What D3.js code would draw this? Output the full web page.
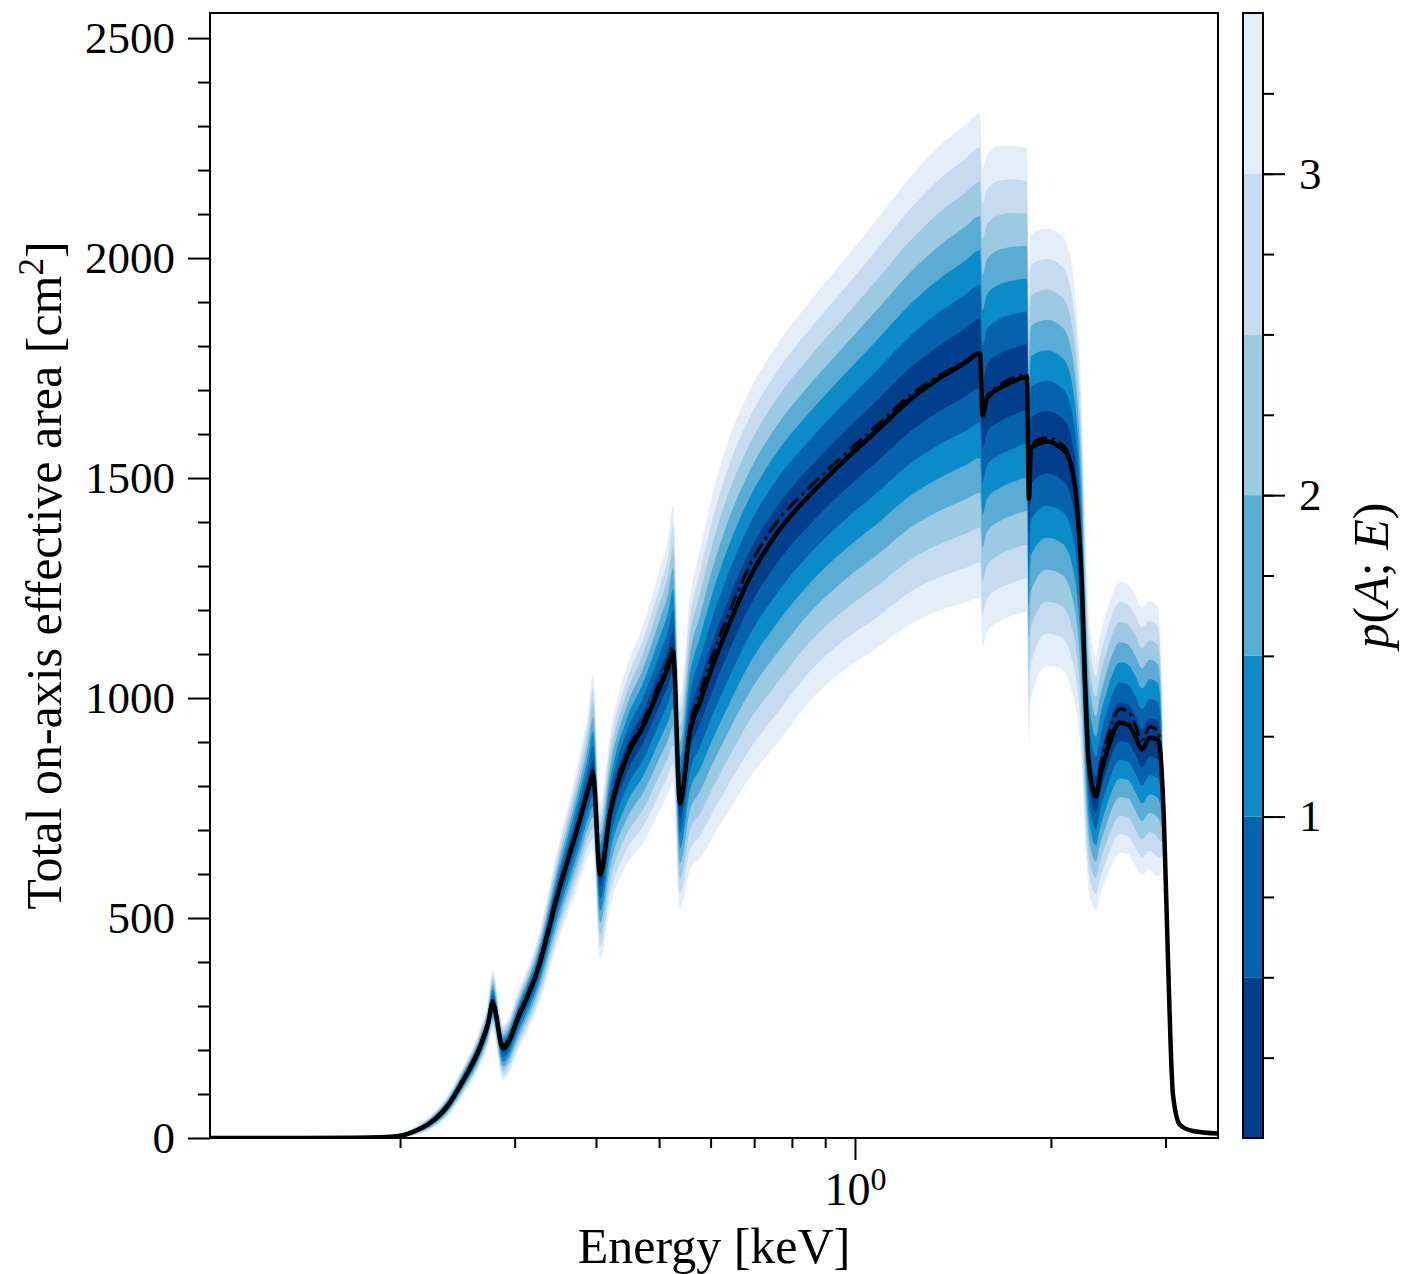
<!DOCTYPE html>
<html>
<head>
<meta charset="utf-8">
<script src="https://cdn.jsdelivr.net/npm/d3@7"></script>
<style>
  body { margin: 0; background: #fff; }
  svg { display: block; }
  text { font-family: "Liberation Serif", "Times New Roman", serif; fill: #000; }
</style>
</head>
<body>
<svg id="chart" width="1425" height="1274"></svg>
<script>
// ---------------- data ----------------
const energy = [0.1021, 0.1404, 0.1676, 0.1864, 0.2000, 0.2094, 0.2224, 0.2361, 0.2499, 0.2655,
  0.2731, 0.2775, 0.2879, 0.3058, 0.3247, 0.3485, 0.3780, 0.3889, 0.3958, 0.4058,
  0.4204, 0.4465, 0.4723, 0.5017, 0.5162, 0.5254, 0.5385, 0.5578, 0.5777, 0.6049,
  0.6356, 0.6898, 0.7589, 0.8530, 0.9585, 1.0810, 1.2147, 1.3654, 1.4756, 1.5561,
  1.5700, 1.5954, 1.6705, 1.7548, 1.8371, 1.8502, 1.8634, 1.9720, 2.0648, 2.1167,
  2.1544, 2.1928, 2.2320, 2.2558, 2.2799, 2.3125, 2.3454, 2.3786, 2.4385, 2.5533,
  2.6268, 2.6922, 2.7599, 2.8392, 2.9206, 2.9512, 2.9833, 3.0257, 3.0800, 3.1567,
  3.3056, 3.6117];

const medianArea = [0, 0, 0.5, 1.5, 5, 14, 34, 71, 130, 207,
  260, 306, 204, 284, 377, 548, 725, 790, 826, 598,
  738, 867, 935, 1026, 1070, 1104, 761, 925, 990, 1075,
  1155, 1275, 1375, 1462, 1537, 1608, 1678, 1732, 1762, 1784,
  1642, 1680, 1705, 1720, 1730, 1453, 1568, 1583, 1570, 1555,
  1520, 1440, 1250, 1040, 880, 800, 776, 820, 878, 944,
  940, 915, 883, 910, 905, 860, 720, 410, 99, 30,
  16, 10];

const meanArea = [0, 0, 0.5, 1.5, 5, 15, 36, 74, 134, 212,
  266, 312, 210, 290, 384, 556, 733, 800, 836, 606,
  748, 877, 946, 1038, 1083, 1117, 768, 940, 1010, 1100,
  1182, 1302, 1400, 1480, 1551, 1620, 1688, 1738, 1765, 1784,
  1645, 1686, 1712, 1728, 1736, 1460, 1575, 1592, 1580, 1563,
  1522, 1440, 1250, 1040, 882, 805, 785, 840, 905, 975,
  970, 940, 905, 935, 925, 870, 720, 410, 99, 30,
  16, 10];

// half-widths of the outermost contour (level 3.5) above / below the median
const spreadUp = [0, 0, 0.5, 1, 4, 9, 16, 24, 32, 42,
  52, 75, 55, 62, 72, 105, 150, 180, 230, 160,
  180, 205, 230, 268, 292, 335, 245, 305, 345, 390,
  420, 425, 428, 440, 455, 480, 505, 530, 540, 545,
  560, 555, 550, 535, 520, 500, 486, 484, 484, 475,
  460, 430, 400, 370, 340, 325, 320, 320, 320, 320,
  318, 320, 323, 310, 300, 250, 60, 0, 0, 0,
  0, 0];

const spreadDown = [0, 0, 0.5, 1, 4, 9, 16, 24, 32, 42,
  50, 60, 72, 76, 85, 110, 140, 150, 170, 190,
  215, 245, 265, 280, 288, 295, 240, 315, 355, 390,
  418, 455, 478, 468, 475, 495, 510, 530, 545, 556,
  526, 530, 530, 532, 535, 560, 570, 510, 502, 505,
  505, 480, 420, 360, 300, 270, 258, 270, 285, 296,
  295, 295, 285, 300, 310, 260, 60, 0, 0, 0,
  0, 0];

const xDomain = [0.1021, 3.612];
const yDomain = [0, 2557];
const yMajorTicks = [0, 500, 1000, 1500, 2000, 2500];
const yMinorTicks = d3.range(0, 2501, 100).filter(v => v % 500 !== 0);
const xMajorTicks = [1];
const xMinorTicks = [0.2, 0.3, 0.4, 0.5, 0.6, 0.7, 0.8, 0.9, 2, 3];

const levels = [0, 0.5, 1, 1.5, 2, 2.5, 3, 3.5];
const levelColors = ["#013f8d", "#0563ae", "#0b8cc8", "#5aacd5", "#9ccae2", "#c6dbef", "#e3eef9"];
const cbarMajorTicks = [1, 2, 3];
const cbarMinorTicks = d3.range(0.25, 3.5, 0.25);

// ---------------- layout ----------------
const plot = { left: 210, right: 1218, top: 13, bottom: 1138 };
const cbar = { left: 1243, width: 20 };

const svg = d3.select("#chart");
const x = d3.scaleLog().domain(xDomain).range([plot.left, plot.right]);
const y = d3.scaleLinear().domain(yDomain).range([plot.bottom, plot.top]);
const lvl = d3.scaleLinear().domain([0, levels[levels.length - 1]]).range([0, 1]);
const curve = d3.curveMonotoneX;

const rows = energy.map((E, i) => ({ E, m: medianArea[i], mean: meanArea[i], up: spreadUp[i], dn: spreadDown[i] }));

svg.append("defs").append("clipPath").attr("id", "clip")
  .append("rect").attr("x", plot.left).attr("y", plot.top)
  .attr("width", plot.right - plot.left).attr("height", plot.bottom - plot.top);

const gp = svg.append("g").attr("clip-path", "url(#clip)");

// filled contour bands, outermost (lightest) first
for (let i = levelColors.length - 1; i >= 0; i--) {
  const f = lvl(levels[i + 1]);
  const area = d3.area().curve(curve)
    .x(d => x(d.E))
    .y0(d => y(d.m - f * d.dn))
    .y1(d => y(d.m + f * d.up));
  gp.append("path").datum(rows).attr("d", area).attr("fill", levelColors[i]).attr("stroke", "none");
}

// mean (dash-dot) and median (solid)
gp.append("path").datum(rows)
  .attr("d", d3.line().curve(curve).x(d => x(d.E)).y(d => y(d.mean)))
  .attr("fill", "none").attr("stroke", "#000").attr("stroke-width", 3)
  .attr("stroke-dasharray", "16,5,3,5").attr("stroke-linejoin", "round");
gp.append("path").datum(rows)
  .attr("d", d3.line().curve(curve).x(d => x(d.E)).y(d => y(d.m)))
  .attr("fill", "none").attr("stroke", "#000").attr("stroke-width", 4.5)
  .attr("stroke-linejoin", "round");

// frame
svg.append("rect").attr("x", plot.left).attr("y", plot.top)
  .attr("width", plot.right - plot.left).attr("height", plot.bottom - plot.top)
  .attr("fill", "none").attr("stroke", "#000").attr("stroke-width", 2);

function styleAxis(g, fs) {
  g.select(".domain").remove();
  g.attr("font-size", null).attr("font-family", null);
  g.selectAll("line").attr("stroke", "#000").attr("stroke-width", 2);
  g.selectAll("text").style("font-size", fs + "px").style("font-family", '"Liberation Serif", "Times New Roman", serif').attr("fill", "#000");
}

// y axis
svg.append("g").attr("transform", `translate(${plot.left},0)`)
  .call(d3.axisLeft(y).tickValues(yMinorTicks).tickSize(12).tickFormat(""))
  .call(g => styleAxis(g, 45));
svg.append("g").attr("transform", `translate(${plot.left},0)`)
  .call(d3.axisLeft(y).tickValues(yMajorTicks).tickSize(22).tickPadding(13).tickFormat(d3.format("d")))
  .call(g => styleAxis(g, 45));

// x axis
svg.append("g").attr("transform", `translate(0,${plot.bottom})`)
  .call(d3.axisBottom(x).tickValues(xMinorTicks).tickSize(10).tickFormat(""))
  .call(g => styleAxis(g, 45));
const xg = svg.append("g").attr("transform", `translate(0,${plot.bottom})`)
  .call(d3.axisBottom(x).tickValues(xMajorTicks).tickSize(22).tickPadding(12).tickFormat(""))
  .call(g => styleAxis(g, 46));
xg.selectAll(".tick text").each(function (d) {
  const t = d3.select(this);
  t.append("tspan").text("10");
  t.append("tspan").attr("dy", "-15").style("font-size", "32px").text(String(Math.round(Math.log10(d))));
});

// axis titles
svg.append("text").attr("x", (plot.left + plot.right) / 2).attr("y", 1263)
  .attr("text-anchor", "middle").style("font-size", "50px").text("Energy [keV]");

const yt = svg.append("text")
  .attr("transform", `translate(61,${(plot.top + plot.bottom) / 2}) rotate(-90)`)
  .attr("text-anchor", "middle").style("font-size", "50px");
yt.append("tspan").text("Total on-axis effective area [cm");
yt.append("tspan").attr("dy", "-18").style("font-size", "35px").text("2");
yt.append("tspan").attr("dy", "18").text("]");

// colorbar
const cb = d3.scaleLinear().domain([levels[0], levels[levels.length - 1]]).range([plot.bottom, plot.top]);
svg.append("g").selectAll("rect").data(levelColors).join("rect")
  .attr("x", cbar.left).attr("width", cbar.width)
  .attr("y", (c, i) => cb(levels[i + 1]))
  .attr("height", (c, i) => cb(levels[i]) - cb(levels[i + 1]))
  .attr("fill", c => c);
svg.append("rect").attr("x", cbar.left).attr("y", plot.top)
  .attr("width", cbar.width).attr("height", plot.bottom - plot.top)
  .attr("fill", "none").attr("stroke", "#000").attr("stroke-width", 2);
svg.append("g").attr("transform", `translate(${cbar.left + cbar.width},0)`)
  .call(d3.axisRight(cb).tickValues(cbarMinorTicks).tickSize(11).tickFormat(""))
  .call(g => styleAxis(g, 45));
svg.append("g").attr("transform", `translate(${cbar.left + cbar.width},0)`)
  .call(d3.axisRight(cb).tickValues(cbarMajorTicks).tickSize(22).tickPadding(14).tickFormat(d3.format("d")))
  .call(g => styleAxis(g, 45));

const ct = svg.append("text")
  .attr("transform", `translate(1388,${(plot.top + plot.bottom) / 2}) rotate(-90)`)
  .attr("text-anchor", "middle").style("font-size", "50px");
ct.append("tspan").style("font-style", "italic").text("p");
ct.append("tspan").text("(");
ct.append("tspan").style("font-style", "italic").text("A");
ct.append("tspan").text("; ");
ct.append("tspan").style("font-style", "italic").text("E");
ct.append("tspan").text(")");
</script>
</body>
</html>
